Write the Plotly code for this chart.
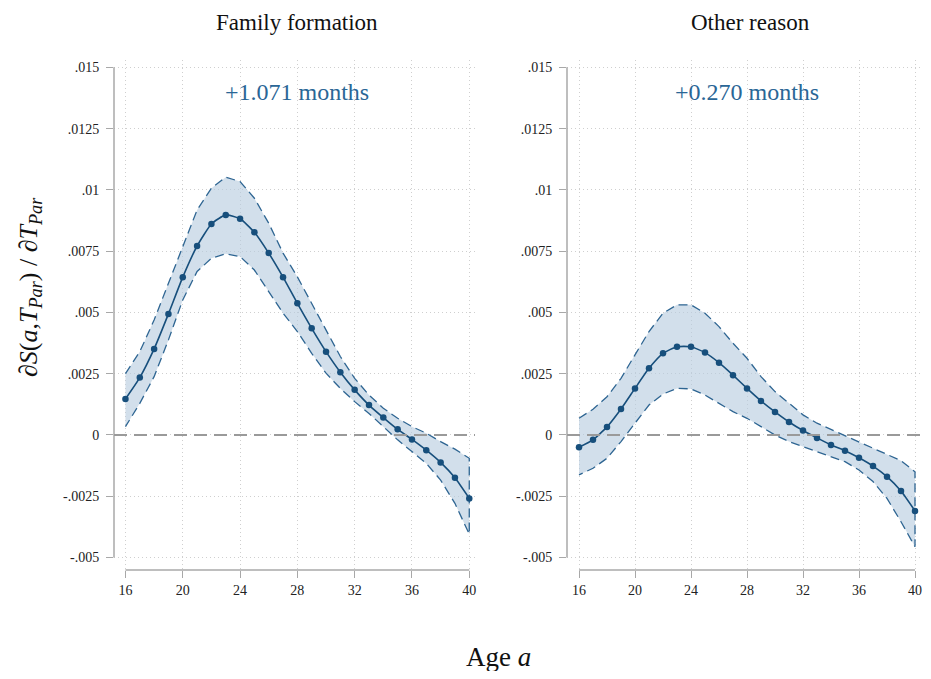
import plotly.graph_objects as go

ages = list(range(16, 41))

# Family formation (values x 1e-3)
ff_est = [1.47, 2.34, 3.51, 4.94, 6.44, 7.71, 8.61, 8.98, 8.82, 8.27, 7.42, 6.44, 5.37,
          4.35, 3.40, 2.56, 1.84, 1.22, 0.71, 0.23, -0.18, -0.62, -1.12, -1.75, -2.59]
ff_hi = [2.50, 3.40, 4.69, 6.19, 7.76, 9.18, 10.07, 10.52, 10.34, 9.66, 8.64, 7.42, 6.45,
         5.37, 4.29, 3.20, 2.31, 1.63, 1.09, 0.68, 0.34, 0.07, -0.27, -0.58, -0.95]
ff_lo = [0.34, 1.29, 2.38, 3.88, 5.51, 6.67, 7.21, 7.39, 7.28, 6.73, 5.85, 4.97, 4.22,
         3.33, 2.52, 1.90, 1.36, 0.88, 0.34, -0.20, -0.68, -1.16, -1.84, -2.79, -4.05]

# Other reason (values x 1e-3)
or_est = [-0.50, -0.20, 0.33, 1.06, 1.90, 2.72, 3.33, 3.60, 3.60, 3.36, 2.95, 2.44, 1.90,
          1.39, 0.94, 0.53, 0.18, -0.12, -0.41, -0.64, -0.93, -1.27, -1.70, -2.29, -3.10]
or_hi = [0.68, 1.05, 1.56, 2.31, 3.27, 4.22, 4.97, 5.31, 5.31, 4.97, 4.42, 3.74, 3.13,
         2.38, 1.77, 1.29, 0.82, 0.48, 0.23, -0.04, -0.27, -0.54, -0.78, -1.05, -1.50]
or_lo = [-1.63, -1.36, -0.95, -0.27, 0.48, 1.22, 1.67, 1.90, 1.88, 1.63, 1.29, 0.95, 0.68,
         0.34, 0.00, -0.27, -0.48, -0.68, -0.88, -1.09, -1.43, -1.90, -2.59, -3.54, -4.56]

panel_titles = ["Family formation", "Other reason"]
panel_notes = ["+1.071 months", "+0.270 months"]

y_ticks = [-0.005, -0.0025, 0, 0.0025, 0.005, 0.0075, 0.01, 0.0125, 0.015]
y_tick_text = ["-.005", "-.0025", "0", ".0025", ".005", ".0075", ".01", ".0125", ".015"]
x_ticks = [16, 20, 24, 28, 32, 36, 40]

DARK = "#174f7c"
EDGE = "#2e6592"
FILL = "rgba(183,204,222,0.62)"
FONT = "Liberation Serif"

# page body has an 8px margin: lay out in page pixels, converted to figure fractions
OFF = 8
W, H = 931 - 2 * OFF, 679 - 2 * OFF


def fx(px):
    return (px - OFF) / W


def fy(py):
    return 1 - (py - OFF) / H


series = [(ff_est, ff_hi, ff_lo), (or_est, or_hi, or_lo)]

fig = go.Figure()
domains = [[fx(114), fx(475)], [fx(567), fx(922)]]
xranges = [[15.2, 40.4], [15.143, 40.5]]
ydom = [fy(570), fy(60)]
title_x = [297, 750]

for i, (est, hi, lo) in enumerate(series):
    xa = "x" if i == 0 else "x2"
    ya = "y" if i == 0 else "y2"
    e = [v / 1000 for v in est]
    h = [v / 1000 for v in hi]
    l = [v / 1000 for v in lo]
    fig.add_trace(go.Scatter(
        x=ages + ages[::-1], y=h + l[::-1], fill="toself", fillcolor=FILL,
        mode="lines", line=dict(color=EDGE, width=1.3, dash="9px,5px"),
        hoverinfo="skip", showlegend=False, xaxis=xa, yaxis=ya))
    fig.add_trace(go.Scatter(
        x=ages, y=e, mode="lines+markers",
        line=dict(color=DARK, width=1.6, shape="spline", smoothing=0.5),
        marker=dict(color=DARK, size=6.5), showlegend=False, xaxis=xa, yaxis=ya))

axis_common = dict(showline=False, zeroline=False, showgrid=True,
                   gridcolor="#cfcfcf", griddash="1px,3px", gridwidth=1,
                   ticks="outside", ticklen=7, tickcolor="#a8a8a8", tickwidth=1.2,
                   ticklabeloverflow="allow",
                   tickfont=dict(family=FONT, size=14, color="#222"))

for i in range(2):
    sfx = "" if i == 0 else "2"
    fig.layout["xaxis" + sfx] = dict(
        axis_common, domain=domains[i], range=xranges[i],
        tickvals=x_ticks, anchor="y" + sfx)
    fig.layout["yaxis" + sfx] = dict(
        axis_common, domain=ydom, range=[-0.00551, 0.01530],
        tickvals=y_ticks, ticktext=y_tick_text, anchor="x" + sfx, ticklabelstandoff=4)
    xr = "x" + sfx
    yr = "y" + sfx
    fig.add_shape(type="line", xref=xr + " domain", x0=0, x1=0, yref=yr,
                  y0=-0.005, y1=0.015, line=dict(color="#a8a8a8", width=1.5))
    fig.add_shape(type="line", xref=xr, x0=16, x1=40, yref=yr + " domain",
                  y0=0, y1=0, line=dict(color="#a8a8a8", width=1.5))
    fig.add_shape(type="line", xref=xr + " domain", x0=0, x1=1, yref=yr,
                  y0=0, y1=0, line=dict(color="#9a9a9a", width=2, dash="13px,7px"),
                  layer="above")
    fig.add_annotation(xref=xr, yref=yr, x=28, y=0.014, text=panel_notes[i],
                       showarrow=False, xanchor="center", yanchor="middle",
                       font=dict(family=FONT, size=24, color="#2a6696"))
    fig.add_annotation(xref="paper", yref="paper", x=fx(title_x[i]), y=fy(9),
                       text=panel_titles[i], showarrow=False, borderpad=0,
                       xanchor="center", yanchor="top",
                       font=dict(family=FONT, size=23, color="#111"))

fig.add_annotation(xref="paper", yref="paper", x=fx(30), y=fy(287),
                   text="∂<i>S</i>(<i>a</i>,<i>T</i><sub><i>Par</i></sub>) / ∂<i>T</i><sub><i>Par</i></sub>",
                   textangle=-90, showarrow=False, xanchor="center", yanchor="middle",
                   font=dict(family=FONT, size=26, color="#111"))
fig.add_annotation(xref="paper", yref="paper", x=fx(498), y=fy(657),
                   text="Age <i>a</i>", showarrow=False, xanchor="center", yanchor="middle",
                   font=dict(family=FONT, size=27, color="#111"))

fig.update_layout(width=W, height=H, margin=dict(l=0, r=0, t=0, b=0),
                  paper_bgcolor="white", plot_bgcolor="white")

fig.write_html("out.html")
